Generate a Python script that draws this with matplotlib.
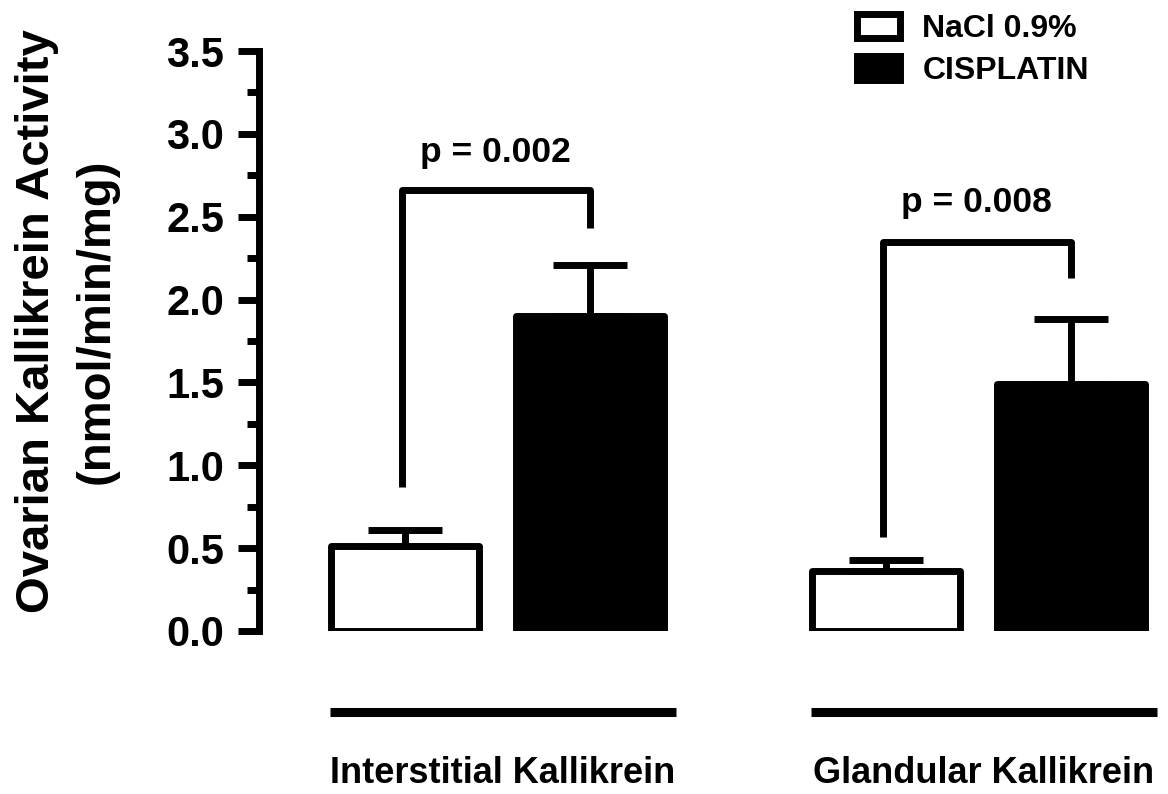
import matplotlib
matplotlib.use('Agg')
import matplotlib.pyplot as plt
from matplotlib.ticker import MultipleLocator
import numpy as np

plt.rcParams['font.family'] = ['Liberation Sans', 'DejaVu Sans']
plt.rcParams['font.weight'] = 'bold'

# ---- data ----
groups = ['Interstitial Kallikrein', 'Glandular Kallikrein']
series = ['NaCl 0.9%', 'CISPLATIN']
nacl_mean = [0.51, 0.36]
nacl_err = [0.10, 0.07]
cis_mean = [1.90, 1.49]
cis_err = [0.31, 0.39]
p_labels = ['p = 0.002', 'p = 0.008']
bracket_top = [2.66, 2.35]
bracket_left_bottom = [0.87, 0.57]
bracket_right_bottom = [2.43, 2.13]
p_label_y = [2.83, 2.53]
yticks = [0.0, 0.5, 1.0, 1.5, 2.0, 2.5, 3.0, 3.5]
ytick_labels = ['0.0', '0.5', '1.0', '1.5', '2.0', '2.5', '3.0', '3.5']
ylabel = 'Ovarian Kallikrein Activity\n(nmol/min/mg)'

# ---- layout ----
W, H = 1168, 794
fig = plt.figure(figsize=(W / 100, H / 100), dpi=100)
ax = fig.add_axes([258.5 / W, 1 - 631 / H, (W - 258.5) / W, 580 / H])

group_pos = np.array([0.0, 2.6])
x_nacl = group_pos
x_cis = group_pos + 1.0
bw = 0.80
lw = 5.0

b1 = ax.bar(x_nacl, nacl_mean, width=bw, color='white', edgecolor='black',
            linewidth=lw, joinstyle='round', label=series[0], zorder=2)
b2 = ax.bar(x_cis, cis_mean, width=bw, color='black', edgecolor='black',
            linewidth=lw, joinstyle='round', label=series[1], zorder=2)

for xs, m, e in [(x_nacl, nacl_mean, nacl_err), (x_cis, cis_mean, cis_err)]:
    ax.errorbar(xs, m, yerr=[np.zeros(len(e)), e], fmt='none', ecolor='black',
                elinewidth=lw, capsize=26.5, capthick=lw, zorder=3)

# significance brackets
for i in range(len(groups)):
    xl, xr = x_nacl[i] - 0.015, x_cis[i]
    ax.plot([xl, xl, xr, xr],
            [bracket_left_bottom[i], bracket_top[i], bracket_top[i], bracket_right_bottom[i]],
            color='black', lw=lw, solid_capstyle='butt', solid_joinstyle='round', zorder=3)
    ax.text((xl + xr) / 2, p_label_y[i], p_labels[i], ha='center', va='baseline',
            fontsize=25.5, fontweight='bold')

# group lines and labels below axis
for i, g in enumerate(groups):
    c = group_pos[i] + 0.5 + 0.03
    ax.plot([c - 0.935, c + 0.935], [-0.486, -0.486], color='black', lw=6.5,
            solid_capstyle='butt', clip_on=False)
    ax.text(c, -0.92, g, ha='center', va='baseline', fontsize=26,
            fontweight='bold', clip_on=False)

ax.set_xlim(-(404.5 - 258.5) / 185, (W - 404.5) / 185)
ax.set_ylim(0, 3.5)
ax.set_xticks([])
ax.set_yticks(yticks)
ax.set_yticklabels(ytick_labels, fontsize=30, fontweight='bold')
ax.yaxis.set_minor_locator(MultipleLocator(0.25))
ax.tick_params(axis='y', which='major', length=14.8, width=lw, pad=10)
ax.tick_params(axis='y', which='minor', length=8.3, width=lw)
for s in ['top', 'right', 'bottom']:
    ax.spines[s].set_visible(False)
ax.spines['left'].set_linewidth(lw)
ax.spines['left'].set_capstyle('projecting')

fig.text(67 / W, 1 - 321 / H, ylabel, rotation=90, ha='center', va='center',
         multialignment='center', fontsize=34, fontweight='bold', linespacing=1.45)

leg = ax.legend(handles=[b1, b2], loc='upper left',
                bbox_to_anchor=(857 / W, 1 - 14 / H), bbox_transform=fig.transFigure,
                frameon=False, fontsize=23, borderpad=0, borderaxespad=0,
                handlelength=1.35, handleheight=0.8, handletextpad=0.7,
                labelspacing=0.36)

fig.savefig('out.png', dpi=100, facecolor='white')
